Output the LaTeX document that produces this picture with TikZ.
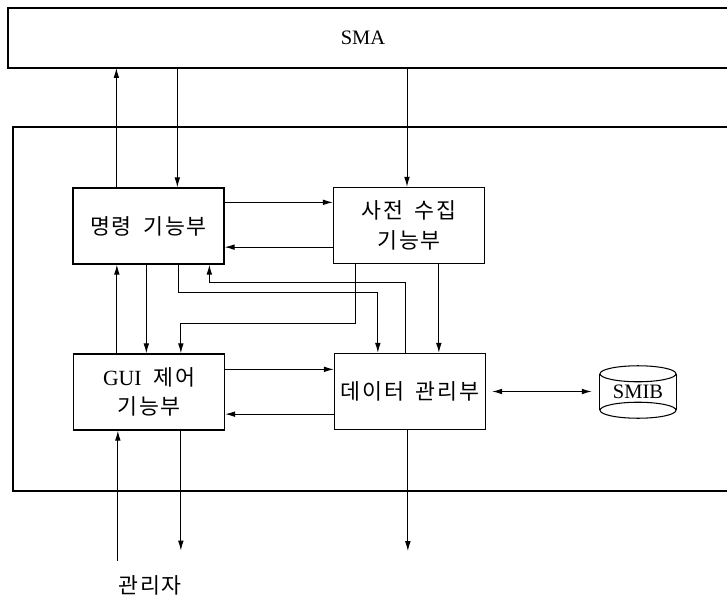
\documentclass[tikz,border=0pt]{standalone}
\usepackage{fontspec}
\setmainfont{Liberation Serif}
\newfontfamily\krfont[LetterSpace=8,WordSpace=1.8]{Noto Sans CJK KR}
\usetikzlibrary{arrows.meta,calc}

\begin{document}
\begin{tikzpicture}[x=0.3mm, y=-0.3mm, font=\fontsize{17.5}{24}\selectfont,
  blk/.style={draw, line width=1.1pt, minimum width=45.3mm, minimum height=22.8mm,
              inner sep=0pt, align=center, font=\fontsize{18.5}{25}\selectfont\krfont},
  wire/.style={line width=0.85pt},
  arr/.style={wire, -{Latex[length=3mm,width=1.7mm]}},
  biarr/.style={wire, {Latex[length=3mm,width=1.7mm]}-{Latex[length=3mm,width=1.7mm]}}]
\useasboundingbox (0,0) rectangle (727,599);
% =================== frames ===================
\draw[line width=1.1pt] (727,8) -| (8,68) -- (727,68);
\node (sma) at (363,38) {SMA};
\coordinate (smaS) at (0,68);
\draw[line width=1.1pt] (727,127) -| (13,491) -- (727,491);
% =================== function blocks ===================
\foreach \nm/\x/\y/\lb in {cmd/148.5/226/{명령 기능부},
                          dict/409/225.5/{사전 수집\\기능부},
                          gui/149/392/{{\rmfamily GUI} 제어\\기능부},
                          data/410/391.5/{데이터 관리부}}{
  \node[blk] (\nm) at (\x,\y) {\lb};
}
% SMIB store
\node[inner sep=0pt, minimum width=22.8mm, minimum height=10.8mm] (smib) at (638,392) {SMIB};
\draw[line width=0.9pt] (smib.north west) -- (smib.south west)
      (smib.north east) -- (smib.south east);
\draw[line width=0.9pt] (smib.north) ellipse [x radius=11.4mm, y radius=2.4mm];
\draw[line width=0.9pt] (smib.south) ellipse [x radius=11.4mm, y radius=2.4mm];
% =================== SMA links ===================
\path ($(cmd.north west)+(44,0)$) coordinate (c1)
      ($(cmd.north west)+(105,0)$) coordinate (c2)
      ($(dict.north)+(-2,0)$) coordinate (c3);
\draw[arr] (c1) -- (c1 |- smaS);
\draw[arr] (c2 |- smaS) -- (c2);
\draw[arr] (c3 |- smaS) -- (c3);
% =================== block links ===================
\draw[arr] ($(cmd.north east)+(0,15)$) coordinate (h1) -- (h1 -| dict.west);
\draw[arr] ($(dict.south west)+(0,-17)$) coordinate (h2) -- (h2 -| cmd.east);
\draw[arr] ($(gui.north east)+(0,16)$) coordinate (h3) -- (h3 -| data.west);
\draw[arr] ($(data.south west)+(0,-16)$) coordinate (h4) -- (h4 -| gui.east);
\draw[arr] ($(cmd.south west)+(74,0)$) coordinate (v1) -- (v1 |- gui.north);
\draw[arr] ($(gui.north west)+(44,0)$) coordinate (v2) -- (v2 |- cmd.south);
\draw[arr] ($(dict.south west)+(106,0)$) coordinate (v3) -- (v3 |- data.north);
% routed links
\draw[arr] ($(cmd.south west)+(106,0)$) |- ($(data.north west)+(44,-60)$)
           -- ($(data.north west)+(44,0)$);
\draw[arr] ($(data.north west)+(72,0)$) |- ($(cmd.south west)+(137,18)$)
           -- ($(cmd.south west)+(137,0)$);
\draw[arr] ($(dict.south west)+(23,0)$) |- ($(gui.north west)+(108,-30)$)
           -- ($(gui.north west)+(108,0)$);
\draw[biarr, shorten <=1.8mm, shorten >=2.4mm] (data.east) -- (data.east -| smib.west);
% =================== outside links ===================
\node[font=\fontsize{18.5}{25}\selectfont\krfont] (admin) at (150,585) {관리자};
\coordinate (a1) at ($(gui.south west)+(45,130)$);
\draw[arr] (a1) -- (a1 |- gui.south);
\draw[arr] ($(gui.south west)+(108,0)$) -- ++(0,120);
\draw[arr] ($(data.south west)+(74,0)$) -- ++(0,121);
\end{tikzpicture}
\end{document}
